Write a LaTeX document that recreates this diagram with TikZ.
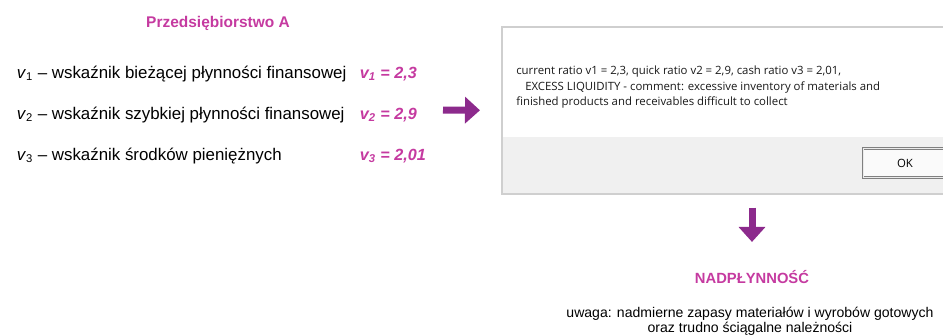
\documentclass[tikz,border=0pt]{standalone}
\usepackage{fontspec}
\setmainfont{Liberation Sans}
\newfontfamily\dlgfont{Open Sans}
\usetikzlibrary{arrows.meta,positioning,calc}
\definecolor{pinkviolet}{HTML}{C53AA0}
\definecolor{plum}{HTML}{8C2A8C}
\definecolor{dlgborder}{HTML}{CFCFCF}
\definecolor{dlgband}{HTML}{F0F0F0}
\definecolor{dlgtext}{HTML}{1A1A1A}

\begin{document}
\begin{tikzpicture}[x=0.025cm, y=-0.025cm,
  ratioline/.style={anchor=base west, font=\fontsize{12}{14}\selectfont},
  ratiovalue/.style={anchor=base west, font=\fontsize{11.5}{14}\selectfont\bfseries\itshape, text=pinkviolet},
  heading/.style={anchor=base, font=\fontsize{10.5}{13}\selectfont\bfseries, text=pinkviolet},
  dialogbox/.style={fill=white, anchor=north west, inner sep=0pt, minimum width=11.5cm, minimum height=4.15cm},
  okbutton/.style={draw=black!50, double=black!8, double distance=0.7pt, line width=0.5pt, fill=black!2, inner sep=0pt, minimum width=2.1cm, minimum height=0.725cm, font=\dlgfont\fontsize{8.1}{10}\selectfont},
  bigarrow/.style={plum, line width=0.175cm, -{Triangle[width=0.65cm,length=0.375cm]}}]
\useasboundingbox (0,0) rectangle (943,336);
\clip (0,0) rectangle (943,336);

\node[heading, font=\fontsize{11}{13}\selectfont\bfseries] (title) at (218,27) {Przedsiębiorstwo A};

\node[ratioline] (v1) at (12,78) {\textit{v}\textsubscript{1} – wskaźnik bieżącej płynności finansowej};
\node[ratioline] (v2) at (12,119) {\textit{v}\textsubscript{2} – wskaźnik szybkiej płynności finansowej};
\node[ratioline] (v3) at (12,160) {\textit{v}\textsubscript{3} – wskaźnik środków pieniężnych};
\node[ratiovalue] (val1) at (355,78) {v\textsubscript{1} = 2,3};
\node[ratiovalue] (val2) at (355,119) {v\textsubscript{2} = 2,9};
\node[ratiovalue] (val3) at (355,160) {v\textsubscript{3} = 2,01};

\node[dialogbox] (dialog) at (502,27) {};
\coordinate (bandtop) at (502,137);
\fill[dlgband] (bandtop) rectangle (dialog.south east);
\draw[dlgborder, line width=1.5pt] (dialog.north west) rectangle (dialog.south east);
\node[anchor=north west, align=left, inner sep=0pt, text=dlgtext,
  font=\dlgfont\fontsize{8.1}{11}\selectfont] (msg) at (516,66)
  {current ratio v1 = 2,3, quick ratio v2 = 2,9, cash ratio v3 = 2,01,\\
   \hspace*{6.4pt}EXCESS LIQUIDITY - comment: excessive inventory of materials and\\
   finished products and receivables difficult to collect};
\node[okbutton] (ok) at (905,163) {OK};

\coordinate (rstart) at (443,110);
\draw[bigarrow] (rstart) -- ([xshift=-0.55cm]dialog.west);

\node[heading] (result) at (752,283) {NADPŁYNNOŚĆ};
\node[anchor=north, align=center, inner sep=0pt, font=\fontsize{10}{10.7}\selectfont] (note) at (750,307)
  {uwaga: nadmierne zapasy materiałów i wyrobów gotowych\\ oraz trudno ściągalne należności};

\draw[bigarrow, shorten <=0.35cm, shorten >=0.575cm] (dialog.south -| result.north) -- (result.north);
\end{tikzpicture}
\end{document}
